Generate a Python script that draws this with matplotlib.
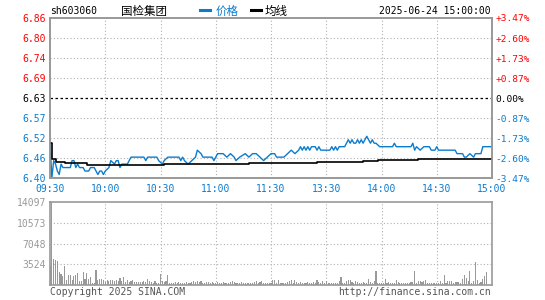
import matplotlib
matplotlib.use("Agg")
import matplotlib.pyplot as plt
from matplotlib.lines import Line2D

# ---- data ----
# minute index: 0 = 09:30, 120 = 11:30/13:00, 240 = 15:00
price_min = [0, 1, 2, 3, 4, 5, 6, 7, 11, 12, 13, 14, 15, 16, 18, 19, 21, 22, 24, 25,
             26, 27, 28, 29, 30, 32, 33, 35, 36, 37, 38, 39, 42, 43, 44, 51, 52, 53, 58, 59,
             61, 62, 64, 70, 71, 72, 73, 75, 77, 79, 80, 82, 83, 88, 89, 91, 94, 96, 98, 100,
             101, 103, 106, 108, 110, 112, 114, 116, 118, 120, 122, 123, 127, 129, 131, 133, 135, 136, 137, 138,
             139, 140, 141, 142, 144, 145, 146, 147, 152, 153, 154, 155, 156, 157, 160, 162, 163, 164, 165, 166,
             167, 168, 169, 170, 171, 172, 173, 174, 175, 176, 177, 179, 181, 186, 187, 188, 196, 197, 198, 199,
             201, 203, 206, 207, 209, 210, 211, 213, 220, 221, 224, 225, 226, 228, 230, 231, 233, 234, 235, 240]
price = [6.50, 6.40, 6.45, 6.44, 6.42, 6.41, 6.44, 6.43, 6.43, 6.45, 6.45, 6.43, 6.44, 6.43, 6.43, 6.42, 6.42, 6.43, 6.43, 6.42,
         6.41, 6.42, 6.42, 6.41, 6.42, 6.43, 6.45, 6.44, 6.45, 6.45, 6.43, 6.44, 6.44, 6.45, 6.46, 6.46, 6.45, 6.46, 6.46, 6.45,
         6.44, 6.45, 6.46, 6.46, 6.45, 6.46, 6.45, 6.44, 6.45, 6.46, 6.48, 6.47, 6.46, 6.46, 6.45, 6.47, 6.47, 6.46, 6.47, 6.46,
         6.45, 6.46, 6.47, 6.46, 6.47, 6.47, 6.46, 6.45, 6.46, 6.47, 6.47, 6.46, 6.46, 6.47, 6.48, 6.47, 6.48, 6.49, 6.48, 6.49,
         6.48, 6.49, 6.48, 6.49, 6.49, 6.48, 6.49, 6.48, 6.48, 6.49, 6.48, 6.49, 6.48, 6.49, 6.49, 6.51, 6.50, 6.51, 6.50, 6.50,
         6.51, 6.50, 6.51, 6.50, 6.51, 6.52, 6.51, 6.50, 6.51, 6.50, 6.50, 6.49, 6.49, 6.49, 6.50, 6.49, 6.49, 6.50, 6.48, 6.49,
         6.48, 6.49, 6.49, 6.48, 6.48, 6.49, 6.48, 6.48, 6.48, 6.47, 6.47, 6.46, 6.46, 6.47, 6.46, 6.47, 6.47, 6.47, 6.49, 6.49]

avg_min = [0, 1, 3, 8, 20, 40, 60, 62, 108, 145, 170, 178, 200, 240]
avg_price = [6.50, 6.455, 6.447, 6.443, 6.438, 6.436, 6.436, 6.440, 6.442, 6.445, 6.449, 6.452, 6.456, 6.456]

volume = [3170, 14097, 4480, 4200, 4000, 2150, 1870, 1600, 3150, 900,
          1650, 1650, 900, 1470, 1650, 2000, 620, 620, 2250, 1100,
          2100, 1100, 1300, 340, 340, 2600, 900, 1000, 1000, 900,
          450, 900, 620, 800, 900, 620, 900, 620, 1190, 620,
          1300, 450, 900, 450, 620, 800, 450, 450, 450, 450,
          450, 620, 450, 1000, 680, 450, 340, 620, 340, 340,
          1950, 620, 450, 620, 1700, 340, 340, 340, 450, 340,
          560, 340, 340, 340, 560, 340, 340, 450, 700, 450,
          620, 450, 750, 340, 340, 450, 510, 340, 450, 340,
          340, 450, 340, 340, 560, 340, 340, 340, 450, 620,
          560, 340, 340, 340, 450, 340, 340, 340, 340, 340,
          340, 450, 700, 340, 450, 700, 340, 340, 340, 340, 340,
          900, 900, 340, 900, 340, 340, 340, 340, 450, 620,
          800, 340, 900, 450, 340, 450, 340, 340, 340, 450,
          340, 340, 450, 340, 800, 450, 340, 620, 340, 620,
          340, 340, 340, 340, 340, 340, 620, 1300, 340, 340,
          620, 850, 900, 450, 340, 620, 450, 340, 340, 560,
          340, 340, 1050, 450, 340, 620, 2300, 340, 340, 340,
          340, 1000, 340, 560, 340, 340, 340, 900, 450, 340,
          340, 340, 340, 340, 340, 450, 450, 2300, 340, 700,
          620, 450, 750, 900, 340, 340, 340, 340, 340, 340,
          340, 620, 340, 1750, 340, 620, 620, 620, 340, 560,
          450, 450, 340, 1080, 1760, 1190, 750, 2320, 340, 620,
          3860, 800, 340, 450, 1000, 1600, 2150, 0, 0, 0]

prev_close = 6.63
price_levels = [6.86, 6.8025, 6.745, 6.6875, 6.63, 6.5725, 6.515, 6.4575, 6.40]
price_labels = ["6.86", "6.80", "6.74", "6.69", "6.63", "6.57", "6.52", "6.46", "6.40"]
pct_labels = ["+3.47%", "+2.60%", "+1.73%", "+0.87%", "0.00%", "-0.87%", "-1.73%", "-2.60%", "-3.47%"]
time_ticks = [0, 30, 60, 90, 120, 150, 180, 210, 240]
time_labels = ["09:30", "10:00", "10:30", "11:00", "11:30", "13:30", "14:00", "14:30", "15:00"]
vol_ticks = [3524, 7048, 10573, 14097]
vol_labels = ["3524", "7048", "10573", "14097"]

BLUE = "#0a7ccf"
RED = "#ff0000"
GRAY = "#999999"
GRID = "#b0b0b0"
MONO = "DejaVu Sans Mono"
CJK = ["Noto Sans CJK SC", "DejaVu Sans"]

W, H = 545, 300


def box(l, t, r, b):
    return [l / W, 1 - b / H, (r - l) / W, (b - t) / H]


def lab_color(i):
    if i < 4:
        return RED
    if i == 4:
        return "black"
    return BLUE


fig = plt.figure(figsize=(5.45, 3.0), dpi=100)
ax = fig.add_axes(box(50, 18, 492, 178))
axv = fig.add_axes(box(50, 202, 492, 285))

#%% price panel
ax.set_xlim(0, 240)
ax.set_ylim(6.40, 6.86)
for lv in price_levels[1:-1]:
    if lv == prev_close:
        ax.axhline(lv, color="black", lw=0.9, ls=(0, (2, 2)), zorder=1)
    else:
        ax.axhline(lv, color=GRID, lw=0.8, ls=(0, (1, 2)), zorder=1)
for t in time_ticks[1:-1]:
    ax.axvline(t, color=GRID, lw=0.8, ls=(0, (1, 2)), zorder=1)

ax.plot(price_min, price, color=BLUE, lw=1.0, zorder=3)
ax.plot(avg_min, avg_price, color="black", lw=1.2, drawstyle="steps-post", zorder=4)

ax.set_yticks(price_levels)
ax.set_yticklabels(price_labels, fontfamily=MONO, fontsize=7)
for i, tl in enumerate(ax.get_yticklabels()):
    tl.set_color(lab_color(i))
ax.set_xticks(time_ticks)
ax.set_xticklabels(time_labels, fontfamily=MONO, fontsize=7, color=BLUE)
ax.tick_params(length=0, pad=3)
ax.tick_params(axis="x", pad=4)

ax2 = ax.twinx()
ax2.set_ylim(6.40, 6.86)
ax2.set_yticks(price_levels)
ax2.set_yticklabels(pct_labels, fontfamily=MONO, fontsize=6.8)
for i, tl in enumerate(ax2.get_yticklabels()):
    tl.set_color(lab_color(i))
ax2.tick_params(length=0, pad=2.5)

for a in (ax, ax2, axv):
    for s in a.spines.values():
        s.set_color(GRAY)
        s.set_linewidth(1.2)

ax.text(466, 6.415, "sina", fontsize=10, fontweight="bold", style="italic",
        color="#d0d0d0", ha="center", va="center", zorder=2)

#%% volume panel
axv.bar(range(len(volume)), volume, width=0.6, color=GRAY, linewidth=0, zorder=3)
axv.set_xlim(0, 240)
axv.set_ylim(0, 14097)
for v in vol_ticks[:-1]:
    axv.axhline(v, color=GRID, lw=0.8, ls=(0, (1, 2)), zorder=1)
for t in time_ticks[1:-1]:
    axv.axvline(t, color=GRID, lw=0.8, ls=(0, (1, 2)), zorder=1)
axv.set_yticks(vol_ticks)
axv.set_yticklabels(vol_labels, fontfamily=MONO, fontsize=7, color=GRAY)
axv.set_xticks([])
axv.tick_params(length=0, pad=3)

#%% header and footer texts
def ftxt(x, y, s, **kw):
    fig.text(x / W, 1 - y / H, s, va="center", **kw)

ftxt(50, 11, "sh603060", fontfamily=MONO, fontsize=7, color="black")
ftxt(143.5, 11, "国检集团", family=CJK, fontsize=8.3, color="black", ha="center")
fig.add_artist(Line2D([200 / W, 210 / W], [1 - 9.5 / H] * 2, color=BLUE, lw=2.2))
ftxt(216, 11, "价格", family=CJK, fontsize=8.3, color=BLUE)
fig.add_artist(Line2D([250.5 / W, 260.5 / W], [1 - 9.5 / H] * 2, color="black", lw=2.2))
ftxt(265, 11, "均线", family=CJK, fontsize=8.3, color="black")
ftxt(491, 11, "2025-06-24 15:00:00", fontfamily=MONO, fontsize=7, color="black", ha="right")
ftxt(50, 292, "Copyright 2025 SINA.COM", fontfamily=MONO, fontsize=7, color="#555555")
ftxt(491, 292, "http://finance.sina.com.cn", fontfamily=MONO, fontsize=7, color="#555555", ha="right")

plt.savefig("out.png", dpi=100)
